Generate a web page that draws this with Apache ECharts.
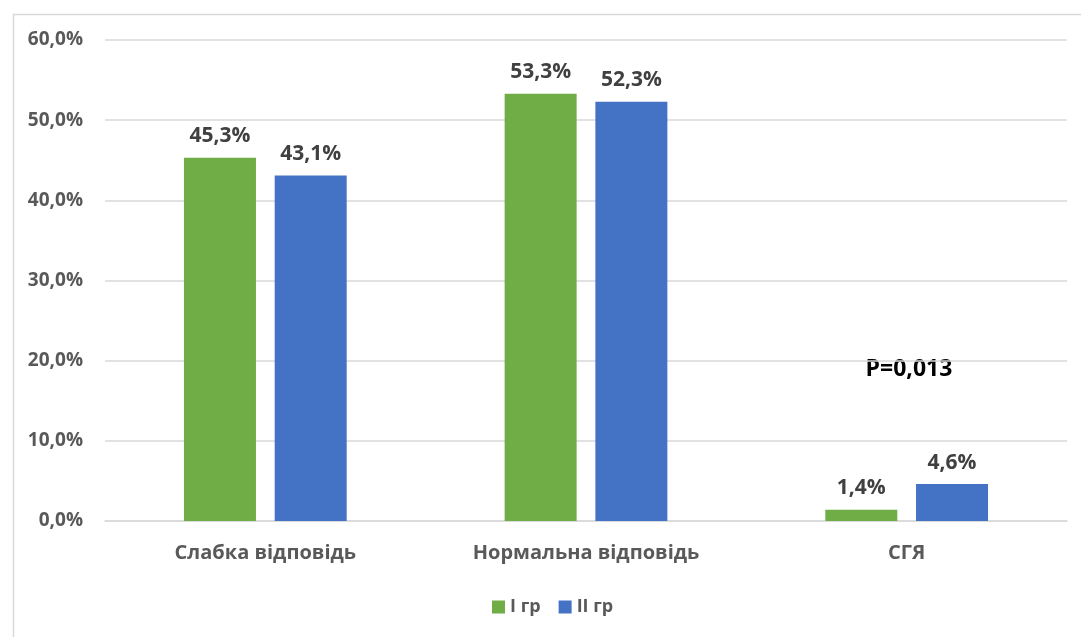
<!DOCTYPE html>
<html>
<head>
<meta charset="utf-8">
<script src="https://cdn.jsdelivr.net/npm/echarts@6/dist/echarts.min.js"></script>
<style>
  html, body { margin: 0; padding: 0; background: #fff; }
  #chart { width: 1081px; height: 637px; }
</style>
</head>
<body>
<div id="chart"></div>
<script>
const categories = ['Слабка відповідь', 'Нормальна відповідь', 'СГЯ'];
const groupI = [45.3, 53.3, 1.4];
const groupII = [43.1, 52.3, 4.6];
const seriesNames = ['I гр', 'II гр'];
const pValueText = 'P=0,013';

const FONT = '"Open Sans", "Noto Sans", sans-serif';
const fmtPct = v => v.toFixed(1).replace('.', ',') + '%';

const chart = echarts.init(document.getElementById('chart'), null, { renderer: 'canvas' });

const labelStyle = {
  show: true,
  position: 'top',
  distance: 11,
  fontFamily: FONT,
  fontWeight: 'bold',
  fontSize: 21,
  color: '#404040',
  formatter: p => fmtPct(p.value)
};

chart.setOption({
  animation: false,
  backgroundColor: '#fff',
  textStyle: { fontFamily: FONT },
  grid: { left: 105, right: 14, top: 40, bottom: 116, containLabel: false },
  legend: {
    bottom: 16,
    left: 487,
    itemWidth: 13,
    itemHeight: 13,
    itemGap: 18,
    icon: 'rect',
    textStyle: { fontFamily: FONT, fontWeight: 'bold', fontSize: 18, color: '#595959' },
    data: seriesNames
  },
  xAxis: {
    type: 'category',
    data: categories,
    axisLine: { show: true, lineStyle: { color: '#d9d9d9', width: 1.5 } },
    axisTick: { show: false },
    axisLabel: { margin: 22, fontFamily: FONT, fontWeight: 'bold', fontSize: 20, color: '#595959' }
  },
  yAxis: {
    type: 'value',
    min: 0,
    max: 60,
    interval: 10,
    axisLine: { show: false },
    axisTick: { show: false },
    splitLine: { lineStyle: { color: '#d9d9d9', width: 1.5 } },
    axisLabel: {
      margin: 22,
      fontFamily: FONT, fontWeight: 'bold', fontSize: 19, color: '#595959',
      formatter: v => v.toFixed(1).replace('.', ',') + '%'
    }
  },
  series: [
    {
      name: seriesNames[0],
      type: 'bar',
      data: groupI,
      barWidth: 72,
      barGap: '26%',
      itemStyle: { color: '#70ad47' },
      label: labelStyle
    },
    {
      name: seriesNames[1],
      type: 'bar',
      data: groupII,
      barWidth: 72,
      itemStyle: { color: '#4472c4' },
      label: labelStyle
    }
  ],
  graphic: [
    {
      type: 'rect',
      left: 11, top: 12,
      shape: { width: 1100, height: 700 },
      style: { fill: 'none', stroke: '#d9d9d9', lineWidth: 1.5 },
      silent: true,
      z: -1
    },
    {
      type: 'text',
      x: 909, y: 369,
      style: {
        text: pValueText,
        align: 'center',
        verticalAlign: 'middle',
        fontFamily: FONT, fontWeight: 'bold', fontSize: 23, fill: '#000'
      }
    }
  ]
});
</script>
</body>
</html>
